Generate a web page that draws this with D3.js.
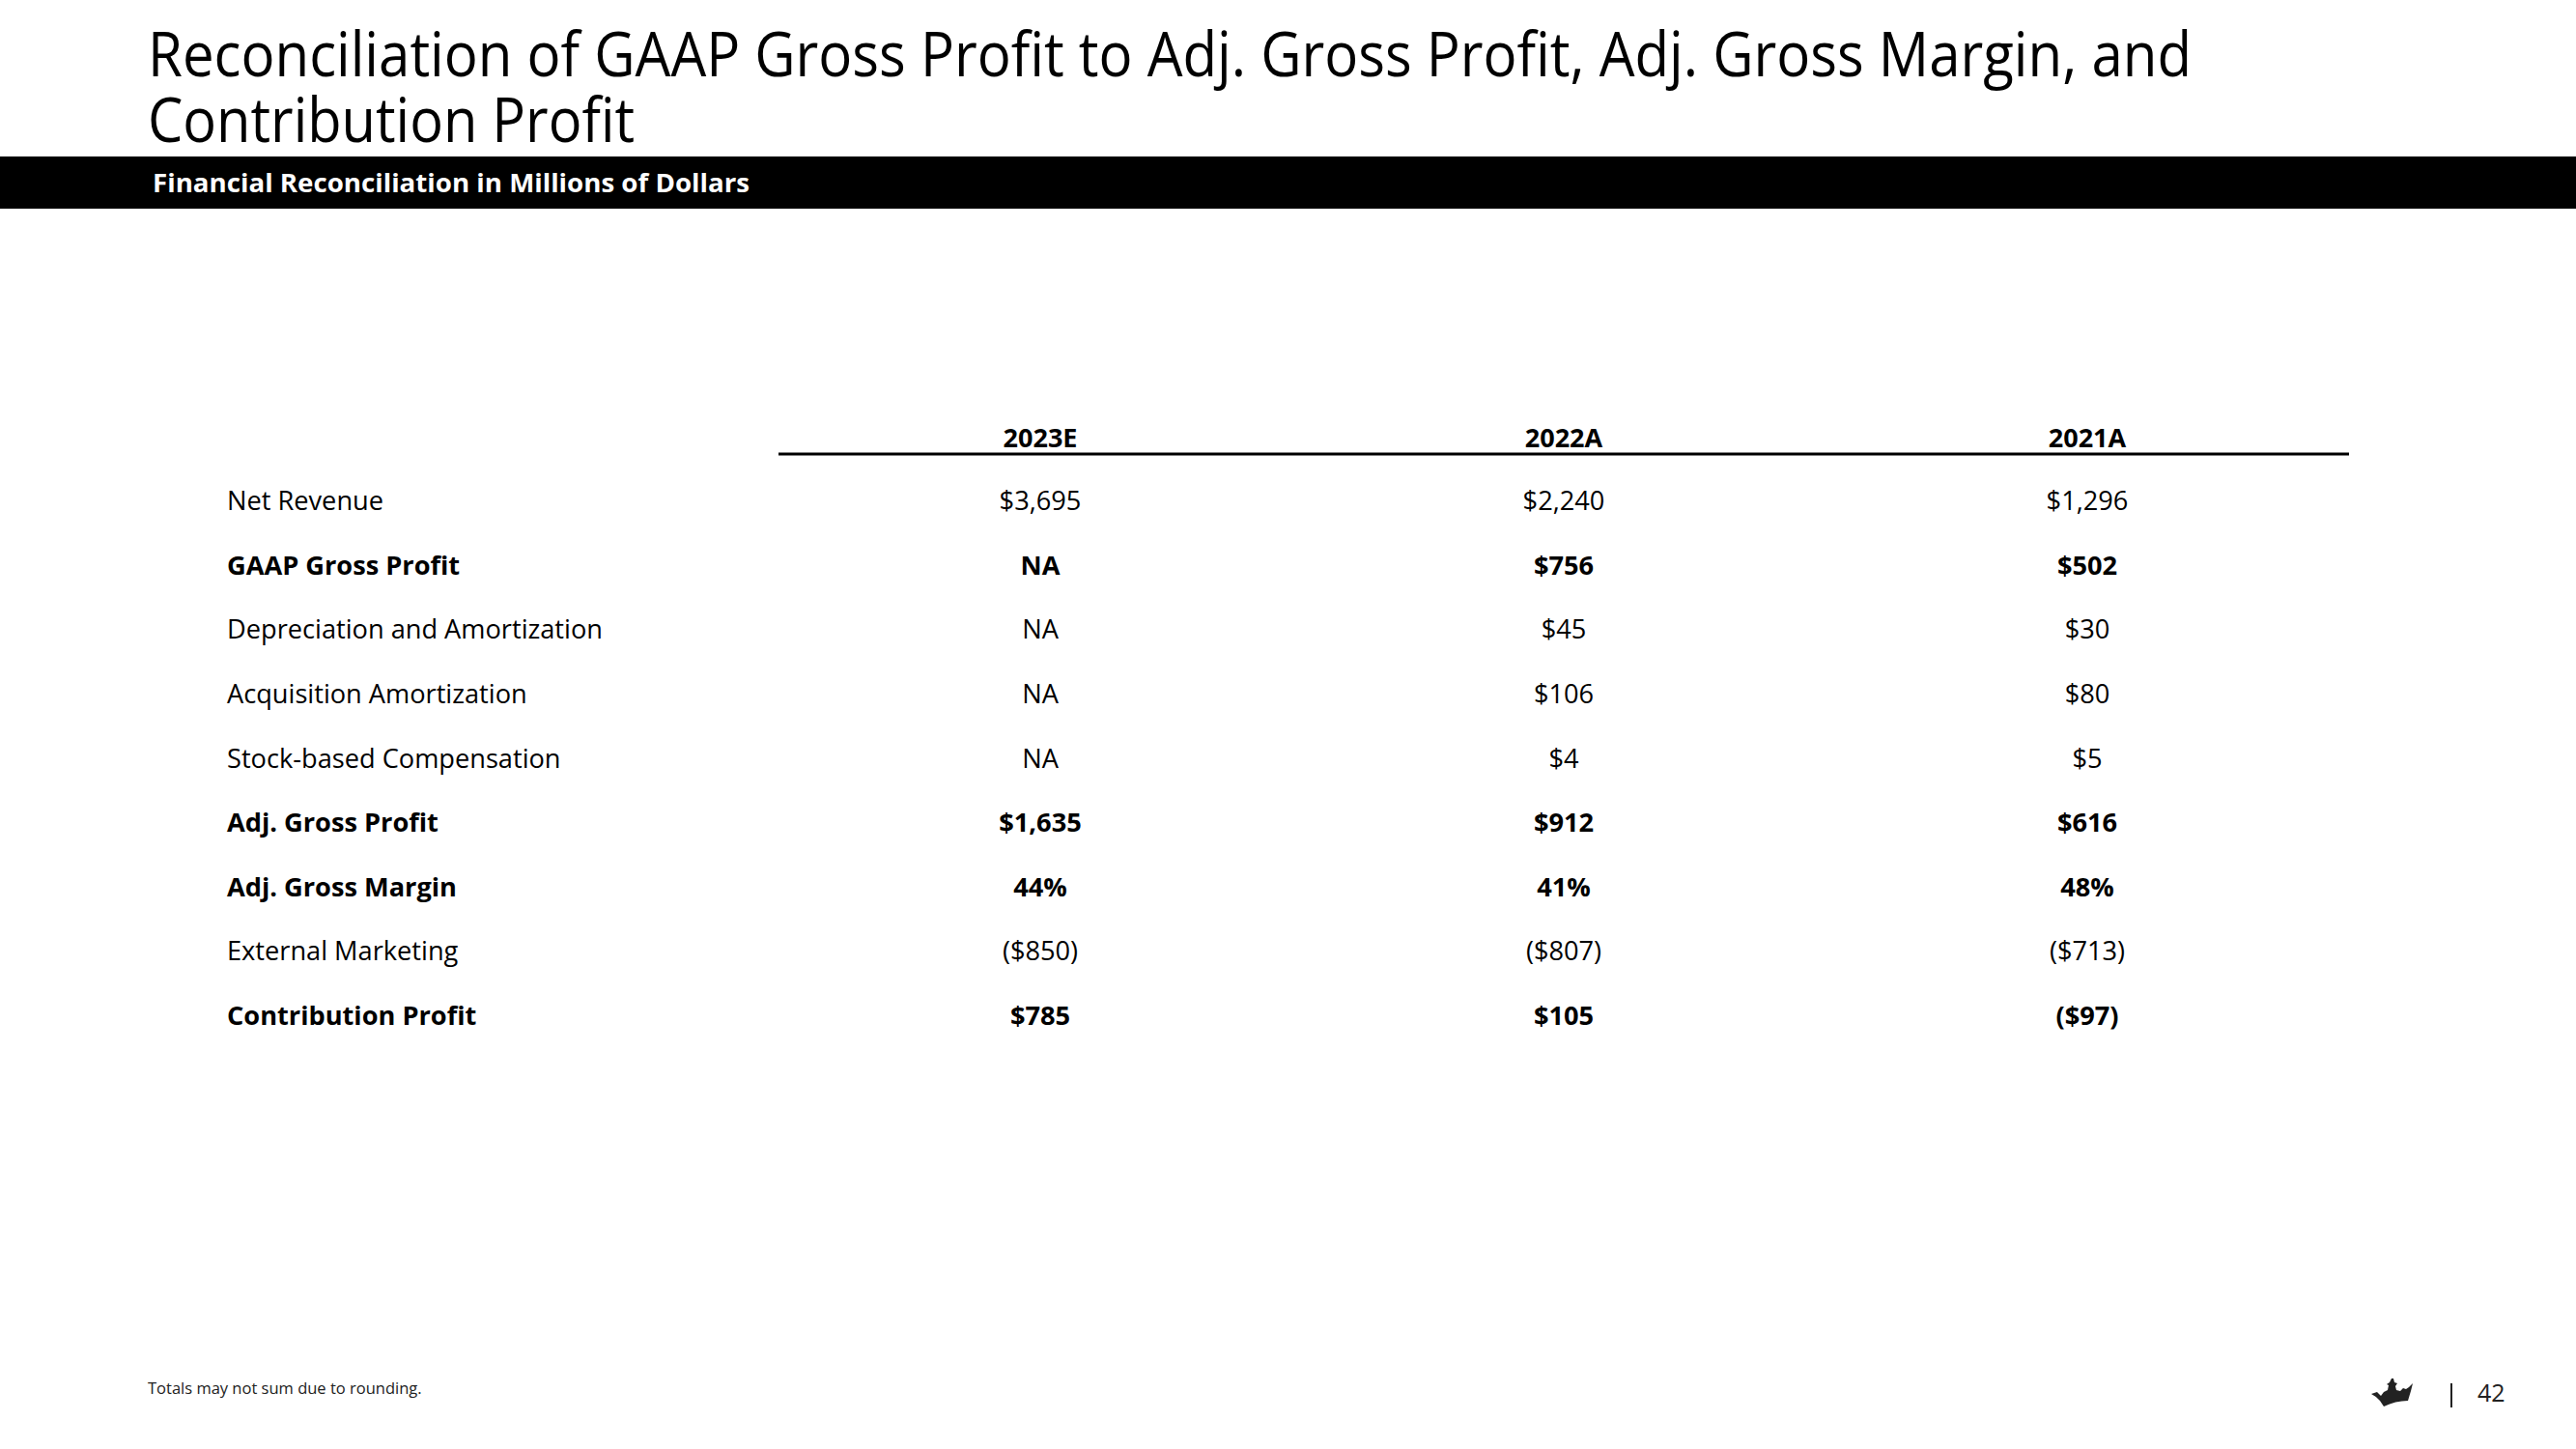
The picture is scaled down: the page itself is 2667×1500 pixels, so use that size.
<!DOCTYPE html>
<html>
<head>
<meta charset="utf-8">
<script src="https://cdn.jsdelivr.net/npm/d3@7"></script>
<style>
  html, body { margin: 0; padding: 0; background: #fff; }
  svg { display: block; font-family: "Open Sans", "Noto Sans", sans-serif; }
</style>
</head>
<body>
<svg id="chart" width="2667" height="1500"></svg>
<script>
// ---- Data ----
const titleLines = [
  "Reconciliation of GAAP Gross Profit to Adj. Gross Profit, Adj. Gross Margin, and",
  "Contribution Profit"
];
const subtitle = "Financial Reconciliation in Millions of Dollars";
const footnote = "Totals may not sum due to rounding.";
const pageNumber = "42";

const columns = ["2023E", "2022A", "2021A"];
const rowLabels = [
  "Net Revenue",
  "GAAP Gross Profit",
  "Depreciation and Amortization",
  "Acquisition Amortization",
  "Stock-based Compensation",
  "Adj. Gross Profit",
  "Adj. Gross Margin",
  "External Marketing",
  "Contribution Profit"
];
const rowBold = [false, true, false, false, false, true, true, false, true];
const rowUnit = ["usd", "usd", "usd", "usd", "usd", "usd", "pct", "usd", "usd"];

// values per column (null = NA)
const values2023E = [3695, null, null, null, null, 1635, 44, -850, 785];
const values2022A = [2240, 756, 45, 106, 4, 912, 41, -807, 105];
const values2021A = [1296, 502, 30, 80, 5, 616, 48, -713, -97];
const seriesValues = [values2023E, values2022A, values2021A];

// ---- Formatting ----
const fmtNum = d3.format(",");
function fmt(v, unit) {
  if (v === null || v === undefined) return "NA";
  if (unit === "pct") return v + "%";
  const s = "$" + fmtNum(Math.abs(v));
  return v < 0 ? "(" + s + ")" : s;
}

// ---- Drawing ----
const svg = d3.select("#chart");
const W = 2667;

// Title (one text element, two lines)
const titleBaselines = [79, 147];
const titleWidths = [2116, 504];
const title = svg.append("text")
  .attr("font-size", 64).attr("fill", "#000");
titleLines.forEach((t, i) => {
  title.append("tspan")
    .attr("x", 153).attr("y", titleBaselines[i])
    .attr("textLength", titleWidths[i]).attr("lengthAdjust", "spacingAndGlyphs")
    .text(t);
});

// Black band with subtitle
svg.append("rect").attr("x", 0).attr("y", 162).attr("width", W).attr("height", 54).attr("fill", "#000");
svg.append("text")
  .attr("x", 158).attr("y", 199)
  .attr("font-size", 27).attr("font-weight", 700).attr("fill", "#fff")
  .attr("textLength", 618).attr("lengthAdjust", "spacingAndGlyphs")
  .text(subtitle);

// Scales
const x = d3.scaleBand().domain(columns).range([806, 2432]);
const y = d3.scalePoint().domain(rowLabels).range([528, 1061]);
const headerY = 463;

// Header
svg.append("g").selectAll("text").data(columns).join("text")
  .attr("x", d => x(d) + x.bandwidth() / 2)
  .attr("y", headerY)
  .attr("text-anchor", "middle")
  .attr("font-size", 27).attr("font-weight", 700).attr("fill", "#000")
  .text(d => d);

svg.append("line")
  .attr("x1", x.range()[0]).attr("x2", x.range()[1])
  .attr("y1", 470).attr("y2", 470)
  .attr("stroke", "#000").attr("stroke-width", 3);

// Row labels
svg.append("g").selectAll("text").data(rowLabels).join("text")
  .attr("x", 235)
  .attr("y", d => y(d))
  .attr("font-size", 27.2)
  .attr("font-weight", (d, i) => rowBold[i] ? 700 : 400)
  .attr("fill", "#000")
  .text(d => d);

// Cells
const cells = [];
columns.forEach((c, ci) => {
  rowLabels.forEach((r, ri) => {
    cells.push({ col: c, row: r, text: fmt(seriesValues[ci][ri], rowUnit[ri]), bold: rowBold[ri] });
  });
});
svg.append("g").selectAll("text").data(cells).join("text")
  .attr("x", d => x(d.col) + x.bandwidth() / 2)
  .attr("y", d => y(d.row))
  .attr("text-anchor", "middle")
  .attr("font-size", 27.2)
  .attr("font-weight", d => d.bold ? 700 : 400)
  .attr("fill", "#000")
  .text(d => d.text);

// Footnote
svg.append("text")
  .attr("x", 153).attr("y", 1443)
  .attr("font-size", 16.5).attr("fill", "#222")
  .text(footnote);

// Crown logo
svg.append("path")
  .attr("d", "M2455,1443 L2461,1441 L2465,1445 L2468,1441 L2472,1439 L2473,1434 L2471,1433 L2474,1431 L2476,1427 L2478,1427 L2479,1431 L2482,1432 L2480,1435 L2481,1439 L2485,1440 L2488,1437 L2491,1438 L2494,1436 L2498,1432 L2496,1440 L2493,1450 Q2480,1450 2468,1456 L2464,1450 Q2461,1446 2455,1443 Z")
  .attr("fill", "#222");

// Page separator and number
svg.append("line")
  .attr("x1", 2538).attr("x2", 2538).attr("y1", 1432).attr("y2", 1457)
  .attr("stroke", "#222").attr("stroke-width", 2);
svg.append("text")
  .attr("x", 2565).attr("y", 1451)
  .attr("font-size", 25).attr("fill", "#222")
  .text(pageNumber);
</script>
</body>
</html>
